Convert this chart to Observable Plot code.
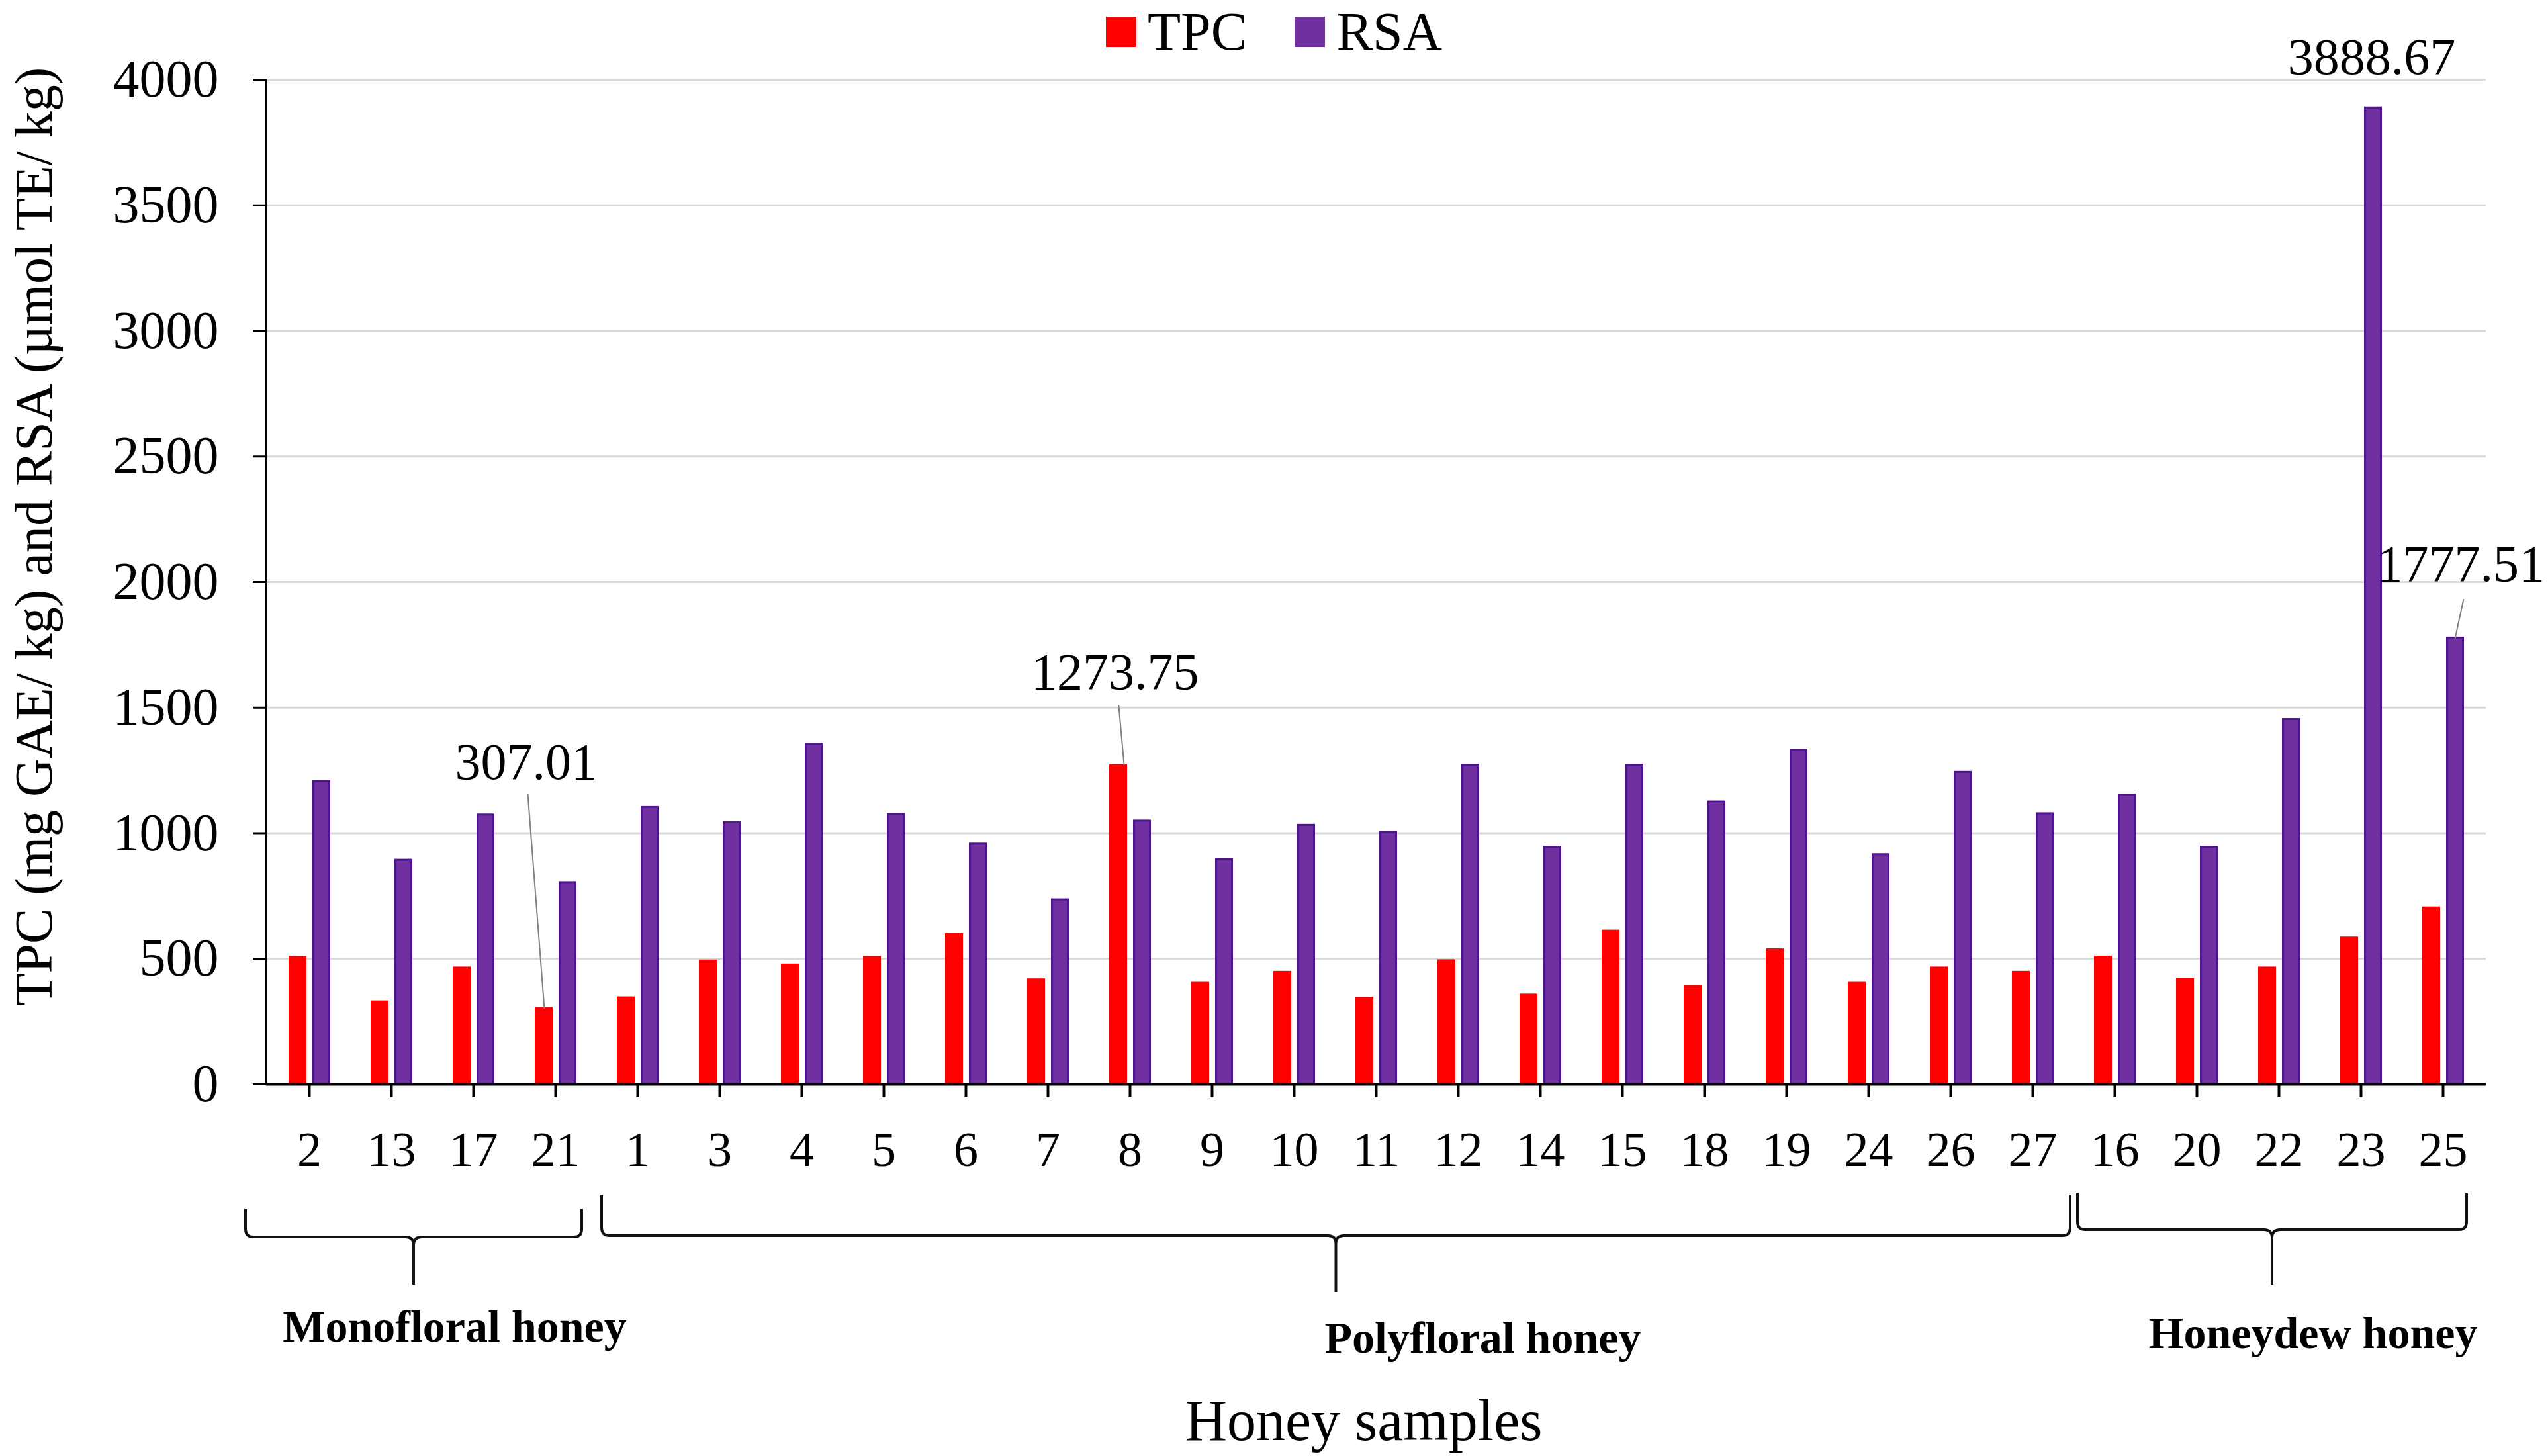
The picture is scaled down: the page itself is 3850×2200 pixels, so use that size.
<!DOCTYPE html>
<html>
<head>
<meta charset="utf-8">
<script src="https://cdn.jsdelivr.net/npm/d3@7"></script>
<script src="https://cdn.jsdelivr.net/npm/@observablehq/plot@0.6"></script>
<style>
html, body { margin: 0; padding: 0; background: #fff; }
#wrap { position: relative; width: 3850px; height: 2200px; overflow: hidden; }
#legend { position: absolute; left: 1671px; top: 0px; height: 96px; display: flex; align-items: center; }
.lg-swatches { font-family: "Liberation Serif", serif !important; font-size: 82px !important; line-height: 1.15 !important; margin: 0 !important; min-height: 0 !important; color: #000; align-items: center; }
.lg-swatch { margin-right: 72px !important; }
.lg-swatch > svg { margin-right: 17px !important; }
</style>
</head>
<body>
<div id="wrap"><div id="chart"></div><div id="legend"></div></div>
<script>
// ---- data ----
const groupNames = ["Monofloral honey", "Polyfloral honey", "Honeydew honey"];
const groupSamples = [
  ["2", "13", "17", "21"],
  ["1", "3", "4", "5", "6", "7", "8", "9", "10", "11", "12", "14", "15", "18", "19", "24", "26", "27"],
  ["16", "20", "22", "23", "25"]
];
const samples = groupSamples.flat();
const seriesNames = ["TPC", "RSA"];
const seriesColors = ["#ff0000", "#7030a0"];
const tpc = [510, 333, 468, 307.01,
  349, 496, 480, 510, 601, 421, 1273.75, 407, 451, 347, 497, 360, 615, 394, 540, 407, 468, 451,
  511, 422, 468, 587, 707];
const rsa = [1206, 893, 1073, 804,
  1103, 1042, 1355, 1075, 957, 735, 1049, 896, 1032, 1003, 1271, 944, 1271, 1125, 1332, 915, 1243, 1078,
  1153, 944, 1453, 3888.67, 1777.51];
const yTicks = [0, 500, 1000, 1500, 2000, 2500, 3000, 3500, 4000];
const annotatedSamples = ["21", "8", "23", "25"];
const annotatedSeries = ["TPC", "TPC", "RSA", "RSA"];
const yTitle = "TPC (mg GAE/ kg) and RSA (µmol TE/ kg)";
const xTitle = "Honey samples";

// ---- derived tables ----
const rows = samples.map((s, i) => ({sample: s, TPC: tpc[i], RSA: rsa[i]}));
const ann = annotatedSamples.map((s, k) => {
  const i = samples.indexOf(s);
  const v = annotatedSeries[k] === "TPC" ? tpc[i] : rsa[i];
  return {sample: s, series: annotatedSeries[k], value: v, label: d3.format(".2f")(v)};
});

// ---- styling / placement (pixels) ----
const FONT = '"Liberation Serif", "Times New Roman", serif';
const annDx = [-44.8, -22.8, 16, 26.7];
const annDy = [-369.5, -138.6, -75.3, -111.4];
const barCenter = {TPC: 44.5, RSA: 80.5};
const leaders = [
  {x1: 1, y1: 2.5, x2: -24, y2: -321.5},
  {x1: 9, y1: 1, x2: 0.8, y2: -89.6},
  null,
  {x1: 0, y1: 1.6, x2: 13, y2: -58.4}
];
const braceStyle = [
  {left: -34, right: -22, line: 231, top: 189, tip: 303, labelDx: 62, labelY: 389},
  {left: 8, right: -5, line: 229, top: 167, tip: 314, labelDx: 222, labelY: 406},
  {left: 6, right: -26, line: 220, top: 165, tip: 303, labelDx: 62, labelY: 399}
];

function decorations(index, scales, values, dim) {
  const x = scales.x, y = scales.y;
  const bw = typeof x.bandwidth === "function" ? x.bandwidth()
    : (dim.width - dim.marginLeft - dim.marginRight) / samples.length;
  const off = (x(samples[0]) - dim.marginLeft) > bw / 4 ? bw / 2 : 0;
  const start = s => x(s) - off;
  const y0 = y(0);
  const g = d3.create("svg:g");
  groupSamples.forEach((grp, k) => {
    const st = braceStyle[k];
    const xL = start(grp[0]) + st.left;
    const xR = start(grp[grp.length - 1]) + bw + st.right;
    const xC = (xL + xR) / 2, yl = y0 + st.line, yt = y0 + st.top, yp = y0 + st.tip, r = 12;
    const p = d3.path();
    p.moveTo(xL, yt); p.lineTo(xL, yl - r); p.quadraticCurveTo(xL, yl, xL + r, yl);
    p.lineTo(xC - r, yl); p.quadraticCurveTo(xC, yl, xC, yl + r); p.lineTo(xC, yp);
    p.moveTo(xC, yl + r); p.quadraticCurveTo(xC, yl, xC + r, yl);
    p.lineTo(xR - r, yl); p.quadraticCurveTo(xR, yl, xR, yl - r); p.lineTo(xR, yt);
    g.append("path").attr("d", p.toString()).attr("fill", "none")
      .attr("stroke", "#111").attr("stroke-width", 4);
    g.append("text").attr("x", xC + st.labelDx).attr("y", y0 + st.labelY)
      .attr("text-anchor", "middle").attr("font-family", FONT)
      .attr("font-weight", "bold").attr("font-size", 68).attr("fill", "#000")
      .text(groupNames[k]);
  });
  ann.forEach((a, k) => {
    const L = leaders[k];
    if (!L) return;
    const cx = start(a.sample) + barCenter[a.series];
    const cy = y(a.value);
    g.append("line").attr("x1", cx + L.x1).attr("y1", cy + L.y1)
      .attr("x2", cx + L.x2).attr("y2", cy + L.y2)
      .attr("stroke", "#808080").attr("stroke-width", 2);
  });
  return g.node();
}

const chart = Plot.plot({
  width: 3850,
  height: 2200,
  marginLeft: 402,
  marginRight: 94,
  marginTop: 120,
  marginBottom: 562,
  style: {fontFamily: FONT, fontSize: "74px", color: "#000", background: "#fff", overflow: "visible"},
  x: {type: "band", domain: samples, padding: 0},
  y: {domain: [0, 4000]},
  marks: [
    Plot.gridY(yTicks, {stroke: "#d9d9d9", strokeOpacity: 1, strokeWidth: 3}),
    Plot.barY(rows, {x: "sample", y: "TPC", fill: seriesColors[0], insetLeft: 31, insetRight: 66}),
    Plot.barY(rows, {x: "sample", y: "RSA", fill: seriesColors[1], stroke: "#4e148f", strokeWidth: 3, insetLeft: 68.5, insetRight: 31.5}),
    Plot.ruleY([0], {stroke: "#000", strokeWidth: 4}),
    Plot.frame({anchor: "left", stroke: "#000", strokeWidth: 3}),
    Plot.axisY({ticks: yTicks, tickSize: 20, tickPadding: 52, fontSize: 80, strokeWidth: 3, tickFormat: d3.format("d"), label: null}),
    Plot.axisX({tickSize: 20, tickPadding: 51, fontSize: 74, strokeWidth: 4, label: null}),
    ...ann.map((a, k) => Plot.text([a], {x: "sample", y: "value", text: "label", dx: annDx[k], dy: annDy[k], fontSize: 78, lineAnchor: "middle", fill: "#000"})),
    Plot.text([yTitle], {text: d => d, frameAnchor: "left", textAnchor: "middle", rotate: -90, dx: -350, dy: -69, fontSize: 80, lineAnchor: "middle", fill: "#000"}),
    Plot.text([xTitle], {text: d => d, frameAnchor: "bottom", textAnchor: "middle", dx: -19, dy: 509, fontSize: 88, lineAnchor: "middle", fill: "#000"}),
    decorations
  ]
});
document.getElementById("chart").append(chart);

const legend = Plot.legend({
  color: {type: "ordinal", domain: seriesNames, range: seriesColors},
  swatchSize: 46,
  className: "lg"
});
document.getElementById("legend").append(legend);
</script>
</body>
</html>
